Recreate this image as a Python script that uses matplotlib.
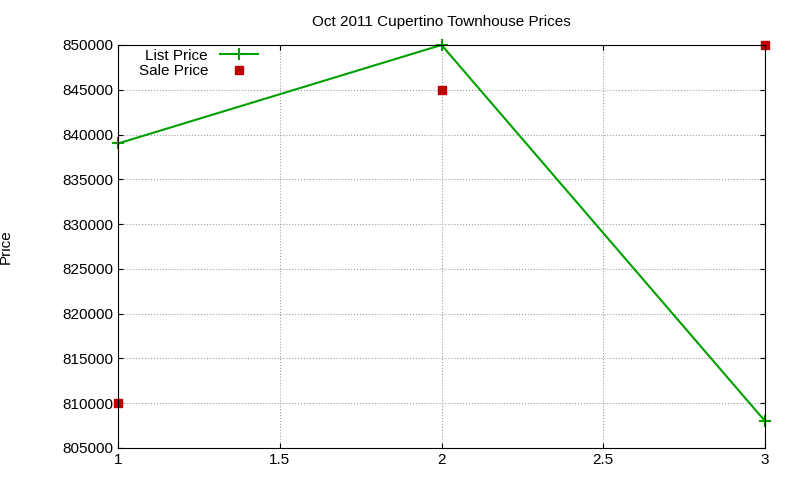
import matplotlib
matplotlib.use('Agg')
import matplotlib.pyplot as plt

x = [1, 2, 3]
list_price = [839000, 850000, 808000]
sale_price = [810000, 845000, 850000]

plt.rcParams['font.family'] = ['Liberation Sans', 'DejaVu Sans']

fig = plt.figure(figsize=(8, 4.8), dpi=100)
ax = fig.add_axes([0.1475, 0.0667, 0.8088, 0.8396])
ax.plot(x, list_price, color='#00a000', lw=1.5, marker='+', ms=8, mew=1.5, label='List Price', clip_on=False)
ax.plot(x, sale_price, ls='none', marker='s', color='#c00000', ms=6, label='Sale Price', clip_on=False)
ax.set_xlim(1, 3)
ax.set_ylim(805000, 850000)
ax.set_xticks([1, 1.5, 2, 2.5, 3])
ax.set_xticklabels(['1', '1.5', '2', '2.5', '3'])
ax.set_yticks(range(805000, 850001, 5000))
ax.grid(True, color='#a0a0a0', ls=':', lw=0.8)
ax.tick_params(labelsize=11, direction='in', top=True, right=True)
ax.set_title('Oct 2011 Cupertino Townhouse Prices', fontsize=11, pad=14)
ax.set_ylabel('Price', fontsize=11)
ax.yaxis.set_label_coords(-0.163, 0.5)
ax.legend(loc='upper left', frameon=False, markerfirst=False, fontsize=11,
          borderaxespad=0.1, handlelength=2.5, labelspacing=0.1, bbox_to_anchor=(0.02, 1.01))
fig.savefig('out.png', dpi=100)
